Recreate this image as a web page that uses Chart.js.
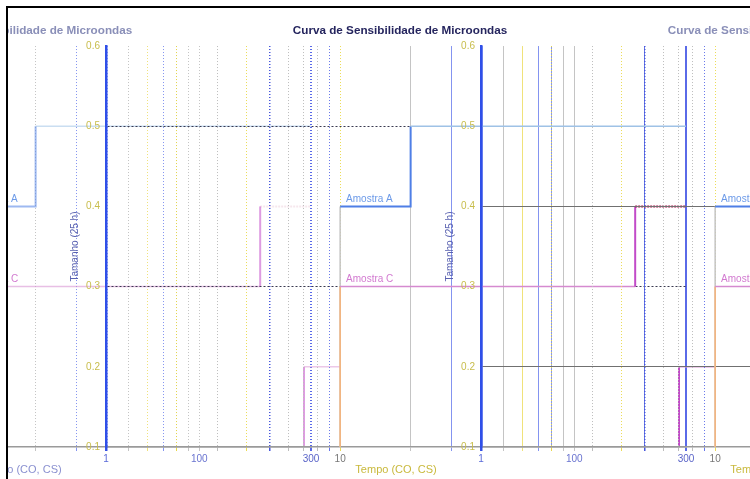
<!DOCTYPE html>
<html>
<head>
<meta charset="utf-8">
<script src="https://cdn.jsdelivr.net/npm/chart.js@4.4.0/dist/chart.umd.min.js"></script>
<style>
  html, body { margin: 0; padding: 0; background: #fff; }
  #page { position: relative; width: 750px; height: 479px; overflow: hidden; background: #fff; }
  #frame { position: absolute; left: 6px; top: 6px; width: 742px; height: 471px;
           border-top: 2px solid #000; border-left: 2px solid #000; overflow: hidden; }
  #frame canvas { position: absolute; top: -8px; width: 800px; height: 479px; }
</style>
</head>
<body>
<div id="page"><div id="frame">
  <canvas id="copy-left" width="800" height="479" style="left:-383px"></canvas>
  <canvas id="copy-main" width="800" height="479" style="left:-8px"></canvas>
  <canvas id="copy-right" width="800" height="479" style="left:367px"></canvas>
</div></div>

<script>
// textos
const chartTitle = 'Curva de Sensibilidade de Microondas';
const xAxisTitle = 'Tempo (CO, CS)';
const yAxisTitle = 'Tamanho (25 h)';

// eixos
const xGridValues = [1, 2, 3, 4, 5, 6, 7, 8, 9, 10, 20, 30, 40, 50, 60, 70, 80, 90, 100, 200, 300];
const xLabelValues = [1, 10, 100, 300];
const yTickValues = [0.1, 0.2, 0.3, 0.4, 0.5, 0.6];

// séries (degraus)
const amostraAx = [10, 10, 20, 20, 300];
const amostraAy = [0.1, 0.4, 0.4, 0.5, 0.5];
const amostraBx = [280, 280, 400];
const amostraBy = [0.1, 0.2, 0.2];
const amostraCx = [10, 10, 182, 182, 300];
const amostraCy = [0.1, 0.3, 0.3, 0.4, 0.4];

// rótulos das séries
const labelTexts = ['Amostra A', 'Amostra C'];
const labelX = [10.6, 10.6];
const labelY = [0.4, 0.3];

// estilos
const gridColors = ['#3050e0', '#e8d84a', '#bdbdbd', '#ecdc55', '#4656dc', '#bdbdbd', '#bdbdbd', '#bdbdbd', '#6676ea', '#ecdc55',
                    '#c4c4c4', '#8494f0', '#3a52e8', '#c4c4c4', '#f0e27a', '#8494f0', '#8494f0', '#c4c4c4', '#c4c4c4', '#6474e4', '#5a6ae8'];
const gridWidths = [1, 1, 1, 1, 1.5, 1, 1, 1, 1, 1, 1, 1, 2.5, 1, 1, 1, 1, 1, 1, 1, 2];
const xLabelColors = { 1: '#5a6ad8', 10: '#777777', 100: '#6a74d0', 300: '#5a64c8' };
const labelColors = ['#6c9ae8', '#d27ad0'];

const segA = [['#c4c4c4', 1.5], ['#4f7fe6', 2], ['#4f7fe6', 2], ['#9fc2e6', 1.5]];
const segB = [['#c24bc8', 2], ['#dc9ad6', 1.5]];
const segC = [['#f7b37a', 1.5], ['#d58ad0', 1.5], ['#c24bc8', 2], ['#a5154a', 2]];

const copies = [
    { id: 'copy-left', alpha: 0.55, lastAlpha: 0.1, titleColor: '#8a8fb8', dotAll: true, yGrid: [] },
    { id: 'copy-main', alpha: 1, lastAlpha: 1, titleColor: '#25255e', dotAll: false, yGrid: [0.3, 0.5] },
    { id: 'copy-right', alpha: 1, lastAlpha: 1, titleColor: '#8a8fb8', dotAll: true, yGrid: [0.2, 0.4] }
];

function fade(hex, a) {
    const n = parseInt(hex.slice(1), 16);
    return 'rgba(' + (n >> 16) + ',' + ((n >> 8) & 255) + ',' + (n & 255) + ',' + a + ')';
}

function toPoints(xs, ys) {
    return xs.map((x, i) => ({ x: x, y: ys[i] }));
}

function stepDataset(name, xs, ys, seg, copy, order) {
    return {
        label: name,
        data: toPoints(xs, ys),
        order: order,
        clip: false,
        pointRadius: 0,
        borderColor: fade(seg[0][0], copy.alpha),
        borderWidth: 1.5,
        segment: {
            borderColor: ctx => {
                const last = seg === segC && ctx.p0DataIndex === 3;
                return fade(seg[ctx.p0DataIndex][0], last ? copy.lastAlpha : copy.alpha);
            },
            borderWidth: ctx => seg[ctx.p0DataIndex][1],
            borderDash: ctx => (seg === segC && ctx.p0DataIndex === 3) ? [2, 1] : undefined
        }
    };
}

const labelPlugin = {
    id: 'seriesLabels',
    afterDatasetsDraw(chart) {
        const ctx = chart.ctx;
        const xs = chart.scales.x, ys = chart.scales.y;
        ctx.save();
        ctx.font = '10px "Liberation Sans", Arial, sans-serif';
        ctx.textBaseline = 'bottom';
        labelTexts.forEach((t, i) => {
            ctx.fillStyle = labelColors[i];
            ctx.fillText(t, xs.getPixelForValue(labelX[i]), ys.getPixelForValue(labelY[i]) - 2);
        });
        ctx.restore();
    }
};

Chart.defaults.font.family = '"Liberation Sans", Arial, sans-serif';

copies.forEach(function (copy) {
    const ctx = document.getElementById(copy.id).getContext('2d');
    new Chart(ctx, {
        type: 'line',
        data: {
            datasets: [
                stepDataset('Amostra A', amostraAx, amostraAy, segA, copy, 2),
                stepDataset('Amostra B', amostraBx, amostraBy, segB, copy, 1),
                stepDataset('Amostra C', amostraCx, amostraCy, segC, copy, 0)
            ]
        },
        options: {
            responsive: false,
            animation: false,
            layout: { padding: 0 },
            plugins: {
                legend: { display: false },
                tooltip: { enabled: false },
                title: {
                    display: true,
                    text: chartTitle,
                    color: copy.titleColor,
                    font: { size: 11.7, weight: 'bold' },
                    padding: { top: 24, bottom: 8 }
                }
            },
            scales: {
                x: {
                    type: 'logarithmic',
                    min: 1,
                    max: 300,
                    afterBuildTicks: s => { s.ticks = xGridValues.map(v => ({ value: v })); },
                    afterFit: s => { s.height = 32; },
                    ticks: {
                        autoSkip: false,
                        maxRotation: 0,
                        padding: 2,
                        font: { size: 10 },
                        color: c => xLabelColors[c.tick.value] || '#777',
                        callback: v => xLabelValues.includes(v) ? String(v) : ''
                    },
                    grid: {
                        color: c => gridColors[c.index] || '#ccc',
                        lineWidth: c => gridWidths[c.index] || 1,
                        tickLength: 4
                    },
                    border: {
                        color: '#9a9a9a',
                        width: 1.5,
                        dash: c => (c.tick && (copy.dotAll || c.tick.value <= 10)) ? [1, 2] : []
                    },
                    title: {
                        display: true,
                        text: xAxisTitle,
                        color: copy.alpha < 1 ? '#8a90d0' : '#c9b93c',
                        font: { size: 11 },
                        padding: { top: 2, bottom: 2.5 }
                    }
                },
                y: {
                    min: 0.1,
                    max: 0.6,
                    afterBuildTicks: s => { s.ticks = yTickValues.map(v => ({ value: v })); },
                    afterFit: s => { s.width = 106; },
                    ticks: {
                        padding: 6,
                        color: '#c8bd4c',
                        font: { size: 10 },
                        callback: v => v.toFixed(1)
                    },
                    grid: {
                        drawTicks: false,
                        color: c => (c.tick && copy.yGrid.includes(Math.round(c.tick.value * 10) / 10))
                            ? (copy.id === 'copy-main' ? '#3a3a50' : '#707070') : 'rgba(0,0,0,0)'
                    },
                    border: {
                        color: '#2f4fe8',
                        width: 2.5,
                        dash: c => (c.tick && copy.id === 'copy-main') ? [2, 2] : []
                    },
                    title: {
                        display: true,
                        text: yAxisTitle,
                        color: '#5a62b0',
                        font: { size: 10 },
                        padding: { top: 69, bottom: 0 }
                    }
                },
                // eixo vazio à direita, só reserva o espaço depois de x = 300
                yRight: {
                    position: 'right',
                    min: 0.1,
                    max: 0.6,
                    afterFit: s => { s.width = 114; },
                    ticks: { display: false },
                    grid: { display: false, drawOnChartArea: false },
                    border: { display: false }
                }
            }
        },
        plugins: [labelPlugin]
    });
});
</script>
</body>
</html>
